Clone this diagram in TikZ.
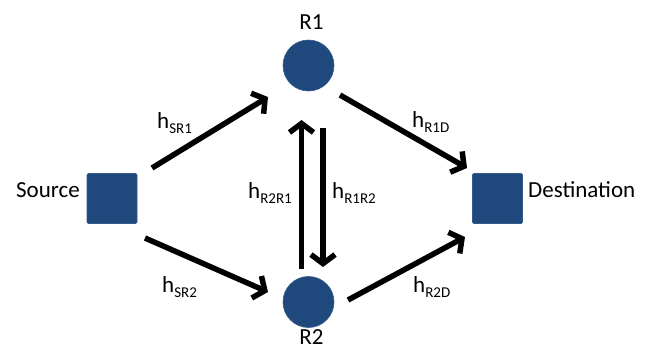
\documentclass[tikz,border=0pt]{standalone}
\usepackage{fontspec}
\setmainfont{Carlito}
\usetikzlibrary{arrows.meta}
\definecolor{nodeblue}{RGB}{31,73,125}
\newcommand{\hsub}[1]{h\raisebox{-5pt}{\fontsize{15}{15}\selectfont #1}}
\begin{document}
\begin{tikzpicture}[x=1pt,y=-1pt,
  every node/.style={font=\fontsize{23}{27}\selectfont},
  sq/.style={draw=nodeblue!90!white,fill=nodeblue,minimum size=50pt,inner sep=0pt,rounded corners=1.2pt,line width=0.6pt},
  relay/.style={circle,draw=nodeblue!90!white,fill=nodeblue,minimum size=51pt,inner sep=0pt,line width=0.6pt},
  txt/.style={inner sep=0pt,anchor=base west},
  link/.style={line width=5.5pt,-{Straight Barb[length=9pt,width=24pt,line width=5.5pt]}}]
\useasboundingbox (0,0) rectangle (649,349);
\node[sq] (src) at (112,198.5) {};
\node[sq] (dst) at (497.5,198.5) {};
\node[relay] (r1) at (308.5,65.5) {};
\node[relay] (r2) at (308.5,302) {};
\node[inner sep=0pt,anchor=base east] (srcl) at (80,197) {Source};
\node[txt] (dstl) at (528,197) {Destination};
\node[inner sep=0pt,anchor=base] (r1l) at (311.5,29) {R1};
\node[inner sep=0pt,anchor=base] (r2l) at (311.5,344.5) {R2};
\draw[link] ([shift={(40,-30.5)}]src.center) -- ([shift={(-40.5,31.5)}]r1.center);
\draw[link] ([shift={(31.5,29.5)}]r1.center) -- ([shift={(-30.5,-30.5)}]dst.center);
\draw[link] ([shift={(33,39.5)}]src.center) -- ([shift={(-40.5,-10)}]r2.center);
\draw[link] ([shift={(39.5,-2)}]r2.center) -- ([shift={(-32.5,38.5)}]dst.center);
\draw[link] ([shift={(-7,-33)}]r2.center) -- ([shift={(-7,54.5)}]r1.center);
\draw[link] ([shift={(14.5,62.5)}]r1.center) -- ([shift={(14.5,-35)}]r2.center);
\node[txt] (lsr1) at (157,128) {\hsub{SR1}};
\node[txt] (lr1d) at (412,127) {\hsub{R1D}};
\node[txt] (lsr2) at (162,292) {\hsub{SR2}};
\node[txt] (lr2d) at (413,292) {\hsub{R2D}};
\node[txt] (lr2r1) at (248,198) {\hsub{R2R1}};
\node[txt] (lr1r2) at (332,198) {\hsub{R1R2}};
\end{tikzpicture}
\end{document}
